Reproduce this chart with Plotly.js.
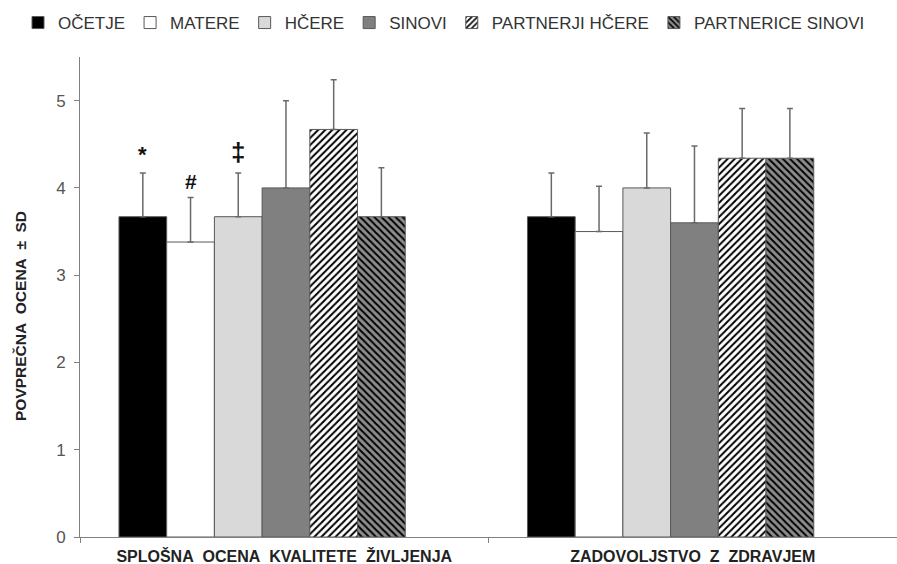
<!DOCTYPE html>
<html>
<head>
<meta charset="utf-8">
<script src="https://cdn.plot.ly/plotly-3.0.1.min.js"></script>
<style>html,body{margin:0;padding:0;background:#fff;}#chart{width:897px;height:564px;}</style>
</head>
<body>
<div id="chart"></div>
<script>
const categories = ["SPLOŠNA\u00a0 OCENA\u00a0 KVALITETE\u00a0 ŽIVLJENJA", "ZADOVOLJSTVO\u00a0 Z\u00a0 ZDRAVJEM"];
const seriesNames = ["OČETJE", "MATERE", "HČERE", "SINOVI", "PARTNERJI HČERE", "PARTNERICE SINOVI"];
const ocetje = [3.67, 3.67];
const matere = [3.38, 3.50];
const hcere = [3.67, 4.00];
const sinovi = [4.00, 3.60];
const partnerjiHcere = [4.67, 4.34];
const partnericeSinovi = [3.67, 4.34];
const sdOcetje = [0.50, 0.50];
const sdMatere = [0.51, 0.52];
const sdHcere = [0.50, 0.63];
const sdSinovi = [1.00, 0.88];
const sdPartnerjiHcere = [0.57, 0.57];
const sdPartnericeSinovi = [0.56, 0.57];
const markers = ["*", "#", "‡"];

const values = [ocetje, matere, hcere, sinovi, partnerjiHcere, partnericeSinovi];
const sds = [sdOcetje, sdMatere, sdHcere, sdSinovi, sdPartnerjiHcere, sdPartnericeSinovi];

const styles = [
  {color: "#000000"},
  {color: "#ffffff"},
  {color: "#d9d9d9"},
  {color: "#808080"},
  {color: "#ffffff", pattern: {shape: "/", fgcolor: "#000000", bgcolor: "#ffffff", size: 5, solidity: 0.4}},
  {color: "#8c8c8c", pattern: {shape: "\\", fgcolor: "#000000", bgcolor: "#8c8c8c", size: 5, solidity: 0.4}}
];

const slot = 0.1168;
const start = -0.4046;

const traces = seriesNames.map((name, i) => ({
  type: "bar",
  name: name,
  x: categories,
  y: values[i],
  offset: start + i * slot,
  width: slot,
  marker: Object.assign({line: {color: "#595959", width: 1}}, styles[i]),
  error_y: {
    type: "data", array: sds[i], symmetric: false,
    arrayminus: sds[i].map(() => 0),
    color: "#6a6a6a", thickness: 1.5, width: 3
  },
  hoverinfo: "skip"
}));

const annFont = {family: "Liberation Sans, Arial, sans-serif", size: 20, color: "#111", weight: "bold"};
const annSizes = [22, 21, 26];
const annShifts = [4, 3, 4];
const annotations = markers.map((m, i) => ({
  xref: "x", yref: "y",
  x: start + (i + 0.5) * slot,
  y: values[i][0] + sds[i][0],
  text: m,
  showarrow: false,
  yanchor: "bottom",
  yshift: annShifts[i],
  font: Object.assign({}, annFont, {size: annSizes[i]})
}));

annotations.push({
  xref: "paper", yref: "paper",
  x: -60 / 817, y: (537 - 316) / 480,
  text: "POVPREČNA\u00a0 OCENA\u00a0 ±\u00a0 SD",
  textangle: -90, showarrow: false,
  xanchor: "center", yanchor: "middle",
  font: {family: "Liberation Sans, Arial, sans-serif", size: 15.5, color: "#222", weight: "bold"}
});

const layout = {
  width: 897, height: 564,
  margin: {l: 80, r: 0, t: 57, b: 27, autoexpand: false},
  paper_bgcolor: "#ffffff", plot_bgcolor: "#ffffff",
  barmode: "overlay",
  font: {family: "Liberation Sans, Arial, sans-serif", color: "#333"},
  showlegend: true,
  legend: {
    orientation: "h", xref: "paper", yref: "paper",
    x: (18 - 80) / 817, xanchor: "left", y: (537 - 5) / 480, yanchor: "top",
    font: {size: 17, color: "#333"},
    itemwidth: 30, traceorder: "normal",
    bgcolor: "rgba(0,0,0,0)"
  },
  xaxis: {
    type: "category",
    range: [-0.5, 1.5],
    showline: true, linecolor: "#808080", linewidth: 1,
    ticks: "outside", tickson: "boundaries", ticklen: 5, tickcolor: "#808080",
    ticklabelstandoff: 5,
    tickfont: {size: 16, color: "#222", family: "Liberation Sans, Arial, sans-serif", weight: "bold"},
    showgrid: false, zeroline: false, fixedrange: true
  },
  yaxis: {
    range: [0, 5.5], dtick: 1, tick0: 0,
    showline: true, linecolor: "#808080", linewidth: 1,
    ticks: "outside", ticklen: 5, tickcolor: "#808080",
    ticklabelstandoff: 5,
    tickfont: {size: 17, color: "#555"},
    showgrid: false, zeroline: false, fixedrange: true
  },
  annotations: annotations
};

Plotly.newPlot("chart", traces, layout, {displayModeBar: false, staticPlot: true});
</script>
</body>
</html>
